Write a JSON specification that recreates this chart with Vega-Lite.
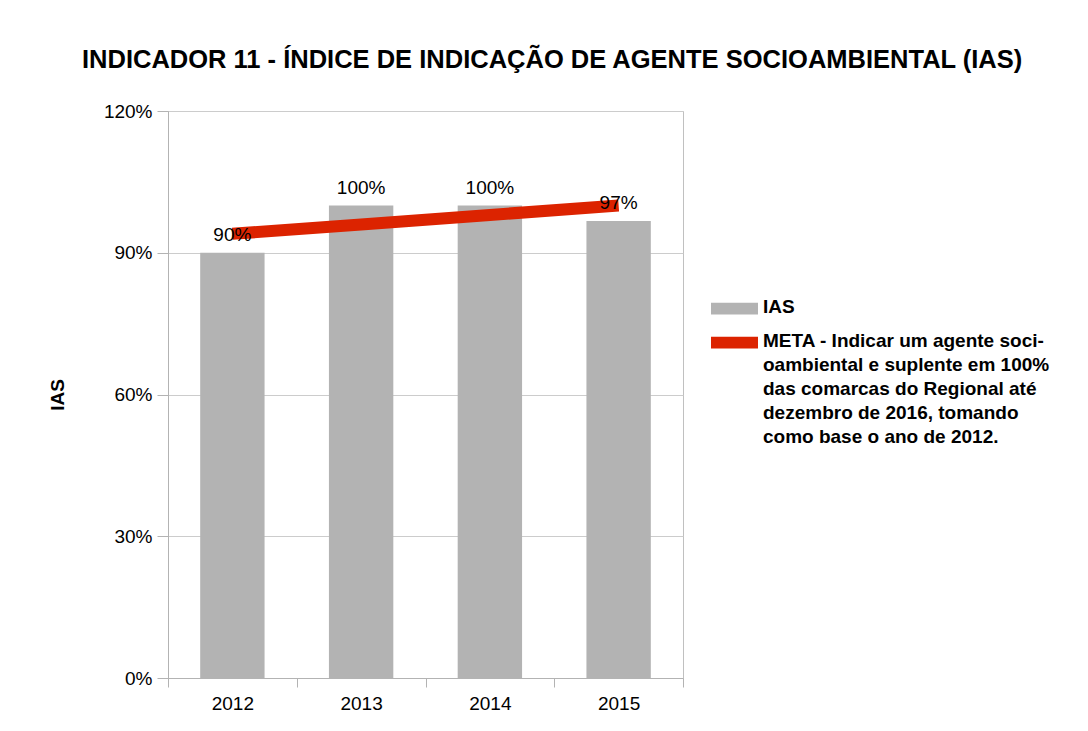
{
  "$schema": "https://vega.github.io/schema/vega-lite/v6.json",
  "autosize": {"type": "none"},
  "width": 515,
  "height": 567,
  "padding": {"left": 168, "top": 111, "right": 405, "bottom": 53},
  "background": "white",
  "title": {
    "text": "INDICADOR 11 - ÍNDICE DE INDICAÇÃO DE AGENTE SOCIOAMBIENTAL (IAS)",
    "font": "Liberation Sans",
    "fontSize": 25.5,
    "fontWeight": "bold",
    "color": "#000000",
    "anchor": "start",
    "frame": "group",
    "dx": -86,
    "baseline": "alphabetic",
    "offset": 9
  },
  "data": {
    "values": [
      {"ano": "2012", "IAS": 0.90, "META": 0.94},
      {"ano": "2013", "IAS": 1.00, "META": 0.96},
      {"ano": "2014", "IAS": 1.00, "META": 0.98},
      {"ano": "2015", "IAS": 0.967, "META": 1.00}
    ]
  },
  "encoding": {
    "x": {
      "field": "ano",
      "type": "ordinal",
      "scale": {"paddingInner": 0, "paddingOuter": 0},
      "axis": {
        "title": null,
        "labelAngle": 0,
        "labelFont": "Liberation Sans",
        "labelFontSize": 19,
        "labelColor": "#000000",
        "tickBand": "extent",
        "tickSize": 9,
        "tickColor": "#b3b3b3",
        "domainColor": "#b3b3b3",
        "labelPadding": 7,
        "grid": false
      }
    }
  },
  "layer": [
    {
      "mark": {"type": "bar", "color": "#b3b3b3", "width": {"band": 0.5}},
      "encoding": {
        "y": {
          "field": "IAS",
          "type": "quantitative",
          "scale": {"domain": [0, 1.2], "nice": false},
          "axis": {
            "title": "IAS",
            "titleFont": "Liberation Sans",
            "titleFontSize": 19,
            "titleFontWeight": "bold",
            "titleColor": "#000000",
            "titlePadding": 36,
            "values": [0, 0.3, 0.6, 0.9, 1.2],
            "format": ".0%",
            "labelFont": "Liberation Sans",
            "labelFontSize": 19,
            "labelColor": "#000000",
            "tickSize": 11,
            "tickColor": "#b3b3b3",
            "domainColor": "#b3b3b3",
            "gridColor": "#cccccc",
            "labelPadding": 5
          }
        },
        "color": {
          "datum": "IAS",
          "scale": {
            "domain": ["IAS", "META"],
            "range": ["#b3b3b3", "#dc2300"]
          },
          "legend": {
            "title": null,
            "orient": "none",
            "legendX": 543,
            "legendY": 174,
            "symbolType": "M-1,-0.25H1V0.25H-1Z",
            "symbolSize": 2209,
            "symbolStrokeWidth": 0,
            "labelFont": "Liberation Sans",
            "labelFontSize": 19,
            "labelFontWeight": "bold",
            "labelColor": "#000000",
            "labelLimit": 400,
            "labelOffset": 5,
            "rowPadding": 2,
            "labelBaseline": "top",
            "labelExpr": "datum.label == 'IAS' ? 'IAS' : ['META - Indicar um agente soci-', 'oambiental e suplente em 100%', 'das comarcas do Regional até', 'dezembro de 2016, tomando', 'como base o ano de 2012.']",
            "encode": {
              "symbols": {
                "update": {
                  "fill": {"scale": "color", "field": "value"},
                  "strokeWidth": {"value": 0}
                }
              },
              "labels": {
                "update": {
                  "lineHeight": {"value": 24},
                  "dy": {"value": -11}
                }
              }
            }
          }
        }
      }
    },
    {
      "mark": {"type": "line", "strokeWidth": 12, "strokeCap": "butt"},
      "encoding": {
        "y": {"field": "META", "type": "quantitative"},
        "color": {"datum": "META"}
      }
    },
    {
      "mark": {"type": "text", "font": "Liberation Sans", "fontSize": 19, "color": "#000000", "baseline": "alphabetic", "dy": -12},
      "encoding": {
        "y": {"field": "IAS", "type": "quantitative"},
        "text": {"field": "IAS", "type": "quantitative", "format": ".0%"}
      }
    }
  ],
  "config": {
    "view": {"stroke": "#c0c0c0"}
  }
}
